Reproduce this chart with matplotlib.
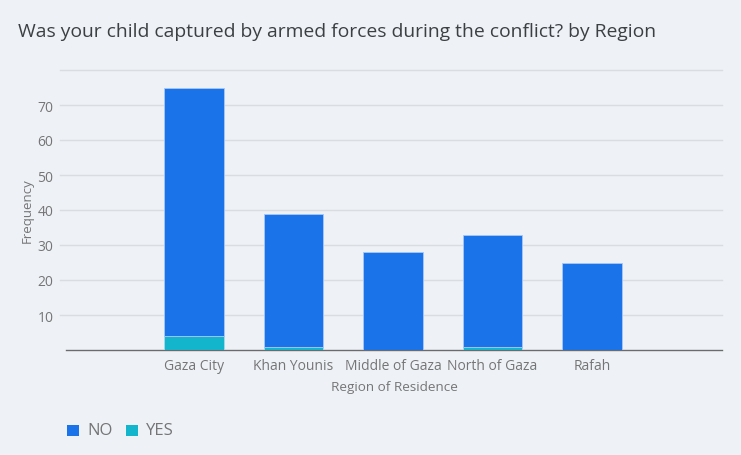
import matplotlib.pyplot as plt
import numpy as np
from matplotlib.patches import Rectangle

# Survey counts by region of residence
regions = ['Gaza City', 'Khan Younis', 'Middle of Gaza', 'North of Gaza', 'Rafah']
yes_counts = [4, 1, 0, 1, 0]
no_counts = [71, 38, 28, 32, 25]
y_ticks = [10, 20, 30, 40, 50, 60, 70]

BG = '#eef2f7'
BLUE = '#1a73e8'
TEAL = '#12b5cb'
TXT = '#757575'

plt.rcParams['font.family'] = ['Open Sans', 'DejaVu Sans']

W, H = 741, 456
fig = plt.figure(figsize=(W / 100, H / 100), dpi=100, facecolor=BG)
ax = fig.add_axes([66 / W, (H - 351) / H, (722 - 66) / W, (351 - 71) / H])
ax.set_facecolor(BG)

x = np.arange(len(regions))
ax.bar(x, yes_counts, width=0.6, color=TEAL, edgecolor='#a8d8f0', linewidth=0.6, zorder=3)
ax.bar(x, no_counts, width=0.6, bottom=yes_counts, color=BLUE,
       edgecolor='#a8c7fa', linewidth=0.6, zorder=3)

ax.set_xlim(-1.29, 5.31)
ax.set_ylim(0, 80)

# horizontal gridlines, top one at 80 left unlabeled
for g in y_ticks + [80]:
    ax.plot([-1.35, 5.31], [g, g], color='#d9dde2', linewidth=1, zorder=1,
            clip_on=False)

ax.set_yticks(y_ticks)
ax.set_yticklabels([str(t) for t in y_ticks], color=TXT, fontsize=10)
ax.set_xticks(x)
ax.set_xticklabels(regions, color=TXT, fontsize=10)
ax.tick_params(axis='both', length=0)
ax.tick_params(axis='y', pad=9)
ax.tick_params(axis='x', pad=6)

for side in ['top', 'right', 'left']:
    ax.spines[side].set_visible(False)
ax.spines['bottom'].set_color('#6b6b6b')
ax.spines['bottom'].set_linewidth(1)

ax.set_xlabel('Region of Residence', color=TXT, fontsize=9.7, labelpad=5)
fig.text(27 / W, (H - 211) / H, 'Frequency', rotation=90, color=TXT,
         fontsize=9.5, ha='center', va='center')

fig.text(18 / W, (H - 32) / H, 'Was your child captured by armed forces during the conflict? by Region',
         color='#3c4043', fontsize=13.85, ha='left', va='center')

# legend
for lx, label, col in [(67, 'NO', BLUE), (126, 'YES', TEAL)]:
    fig.patches.append(Rectangle((lx / W, (H - 437) / H), 12 / W, 11 / H,
                                 transform=fig.transFigure, facecolor=col,
                                 edgecolor='none'))
    fig.text((lx + 20) / W, (H - 431) / H, label, color=TXT, fontsize=12,
             ha='left', va='center')

fig.savefig('out.png', dpi=100, facecolor=BG)
